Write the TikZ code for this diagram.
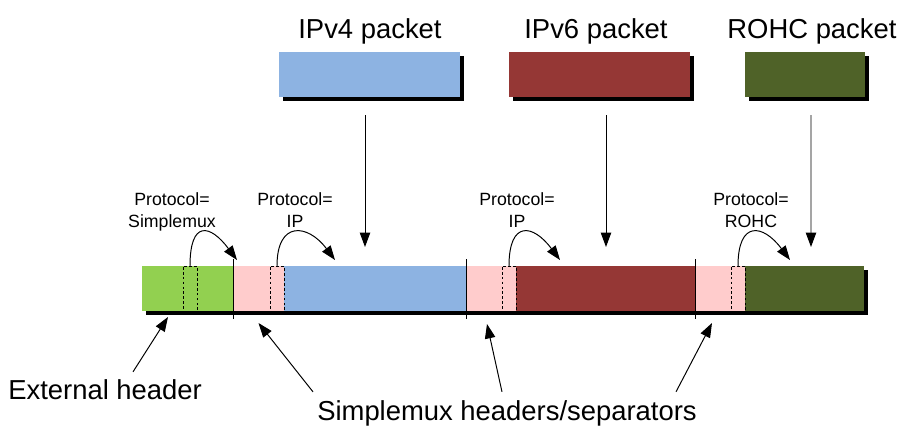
\documentclass[tikz,border=0pt]{standalone}
\usepackage{fontspec}
\setmainfont{Liberation Sans}
\usetikzlibrary{arrows.meta,backgrounds,calc,fit,shadows}
\definecolor{extgreen}{RGB}{146,208,80}
\definecolor{hdrpink}{RGB}{255,204,204}
\definecolor{ipvfour}{RGB}{141,179,226}
\definecolor{ipvsix}{RGB}{149,55,53}
\definecolor{rohcgreen}{RGB}{79,98,40}
\tikzset{
  seg/.style={inner sep=0pt, outer sep=0pt},
  protobox/.style={seg, draw, line width=0.6pt, dash pattern=on 2pt off 1.5pt},
  pkt/.style={seg, drop shadow={shadow xshift=0.11cm, shadow yshift=-0.11cm, fill=black, opacity=1}},
  tip/.style={-{Triangle[length=0.36cm,width=0.26cm]}, line width=0.7pt},
  protolbl/.style={font=\fontsize{12.6}{15.6}\selectfont, align=center, inner sep=0pt},
  biglbl/.style={font=\fontsize{19.5}{23}\selectfont, inner sep=0pt},
}

\begin{document}
\begin{tikzpicture}[x=0.025cm,y=-0.025cm]
\useasboundingbox (0,0) rectangle (904,436);
\node[biglbl, anchor=base] (v4lbl) at (370,38) {IPv4 packet};
\node[biglbl, anchor=base] (v6lbl) at (596,38) {IPv6 packet};
\node[biglbl, anchor=base] (rohclbl) at (812,38) {ROHC packet};
\node[pkt, fill=ipvfour, fit={(279,52) (460,97)}] (ipv4) {};
\node[pkt, fill=ipvsix, fit={(509,52) (690,97)}] (ipv6) {};
\node[pkt, fill=rohcgreen, fit={(745,52) (865,97)}] (rohc) {};
\node[seg, fill=extgreen, fit={(142,266) (233,311)}] (ext) {};
\node[seg, fill=hdrpink, fit={(233,266) (284,311)}] (hdr1) {};
\node[seg, fill=ipvfour, fit={(284,266) (466,311)}] (pl4) {};
\node[seg, fill=hdrpink, fit={(466,266) (516,311)}] (hdr2) {};
\node[seg, fill=ipvsix, fit={(516,266) (695,311)}] (pl6) {};
\node[seg, fill=hdrpink, fit={(695,266) (745,311)}] (hdr3) {};
\node[seg, fill=rohcgreen, fit={(745,266) (864,311)}] (plrohc) {};
\begin{scope}[on background layer]
\fill[black] ($(ext.north west)+(4,4)$) rectangle ($(plrohc.south east)+(4,4)$);
\end{scope}
\node[protobox, fit={(183,266) (197,311)}] (p0) {};
\node[protobox, fit={(270,266) (284,311)}] (p1) {};
\node[protobox, fit={(502,266) (516,311)}] (p2) {};
\node[protobox, fit={(731,266) (745,311)}] (p3) {};
\foreach \s in {hdr1,hdr2,hdr3}
  \draw[line width=0.7pt] ($(\s.north west)+(0,-7)$) -- ($(\s.south west)+(0,8)$);
\draw[tip] ($(ipv4.south)+(-4.5,18)$) -- ($(pl4.north)+(-10,-19)$);
\draw[tip] ($(ipv6.south)+(6.5,18)$) -- ($(pl6.north)+(0.5,-19)$);
\draw[tip] ($(rohc.south)+(6,18)$) -- ($(plrohc.north)+(6.5,-19)$);
\node[protolbl, anchor=base] (lbl0) at (172,227) {Protocol=\\Simplemux};
\node[protolbl, anchor=base] (lbl1) at (295,227) {Protocol=\\IP};
\node[protolbl, anchor=base] (lbl2) at (517,227) {Protocol=\\IP};
\node[protolbl, anchor=base] (lbl3) at (751,227) {Protocol=\\ROHC};
\draw[tip] (p0.north) .. controls +(0,-46) and +(-27,-36) .. ($(hdr1.north west)+(4,-6)$);
\draw[tip] (p1.north) .. controls +(0,-46) and +(-27,-36) .. ($(pl4.north west)+(51,-6)$);
\draw[tip] (p2.north) .. controls +(0,-46) and +(-27,-36) .. ($(pl6.north west)+(44,-6)$);
\draw[tip] (p3.north) .. controls +(0,-46) and +(-27,-36) .. ($(plrohc.north west)+(45,-6)$);
\node[biglbl, anchor=base west] (exthdr) at (8,399) {External header};
\node[biglbl, anchor=base west] (smux) at (317,420) {Simplemux headers/separators};
\draw[tip] ($(exthdr.north west)+(125,-7)$) -- ($(ext.south)+(-19.5,6)$);
\draw[tip] ($(smux.north west)+(-4,-8)$) -- ($(hdr1.south)+(0,12)$);
\draw[tip] ($(smux.north west)+(185,-8)$) -- ($(hdr2.south)+(-4,13)$);
\draw[tip] ($(smux.north west)+(359,-8)$) -- ($(hdr3.south)+(-8,12)$);
\end{tikzpicture}
\end{document}
